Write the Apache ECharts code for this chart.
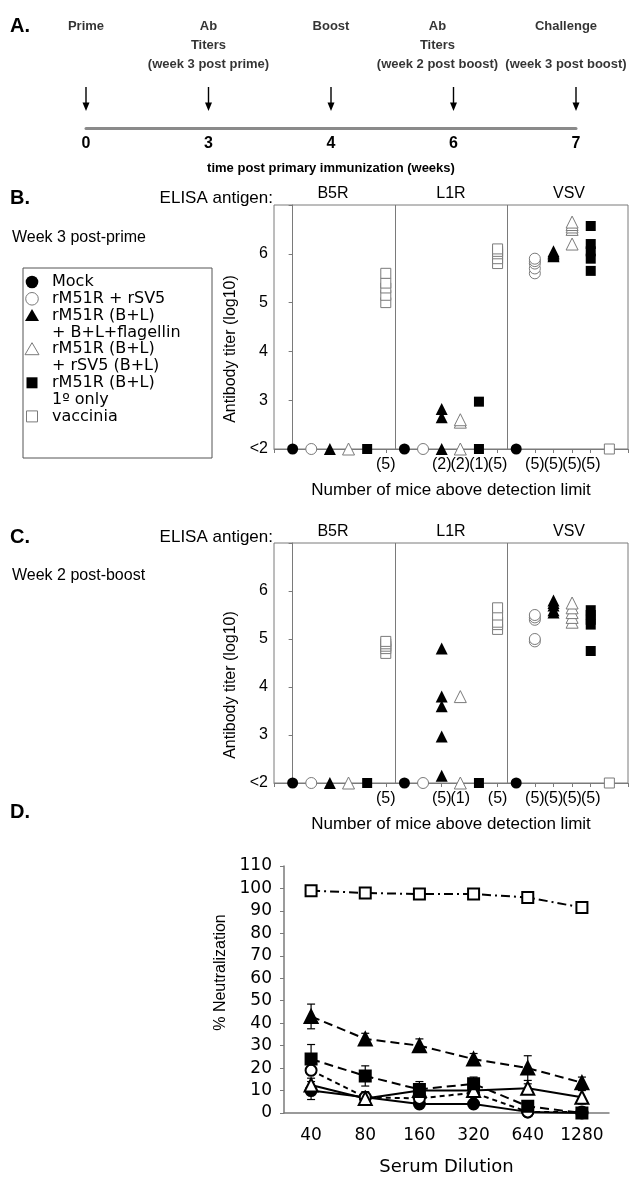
<!DOCTYPE html>
<html>
<head>
<meta charset="utf-8">
<script src="https://cdn.jsdelivr.net/npm/echarts@6/dist/echarts.min.js"></script>
<style>
    html, body { margin: 0; padding: 0; background: #fff; }
    #chart { width: 631px; height: 1177px; }
</style>
</head>
<body>
<div id="chart"></div>
<script>
// A. immunization timeline
var weeks = ['0', '3', '4', '6', '7'];
var events = ['Prime', 'Ab\nTiters\n(week 3 post prime)', 'Boost', 'Ab\nTiters\n(week 2 post boost)', 'Challenge\n\n(week 3 post boost)'];

// B / C. ELISA titers (log10), value 2 = below detection limit (<2)
var antigens = ['B5R', 'L1R', 'VSV'];
var groups = ['Mock', 'rM51R + rSV5', 'rM51R (B+L)\n+ B+L+flagellin', 'rM51R (B+L)\n+ rSV5 (B+L)', 'rM51R (B+L)\n1º only', 'vaccinia'];

// week 3 post-prime, one list per antigen (B5R, L1R, VSV)
var w3Mock = [[2], [2], [2]];
var w3Sv5 = [[2], [2], [5.6, 5.7, 5.8, 5.85, 5.9]];
var w3Flag = [[2], [2, 2.65, 2.82], [5.95, 5.97, 6.0, 6.02, 6.05]];
var w3Rsv5 = [[2], [2, 2.55, 2.6], [6.2, 6.5, 6.55, 6.6, 6.65]];
var w3Prime = [[2], [2, 2.97], [5.65, 5.9, 6.05, 6.2, 6.57]];
var w3Vacc = [[5.0, 5.15, 5.3, 5.4, 5.6], [5.8, 5.9, 6.0, 6.05, 6.1], [2]];
var w3Counts = ['', '', '', '', '', '(5)', '', '', '(2)', '(2)', '(1)', '(5)', '', '(5)', '(5)', '(5)', '(5)', ''];

// week 2 post-boost
var b2Mock = [[2], [2], [2]];
var b2Sv5 = [[2], [2], [4.95, 5.0, 5.4, 5.45, 5.5]];
var b2Flag = [[2], [2.15, 2.97, 3.6, 3.8, 4.8], [5.55, 5.6, 5.7, 5.75, 5.8]];
var b2Rsv5 = [[2], [2, 3.8], [5.35, 5.45, 5.55, 5.65, 5.75]];
var b2Prime = [[2], [2], [4.75, 5.3, 5.4, 5.5, 5.6]];
var b2Vacc = [[4.7, 4.8, 4.85, 4.9, 4.95], [5.2, 5.3, 5.35, 5.5, 5.65], [2]];
var b2Counts = ['', '', '', '', '', '(5)', '', '', '(5)', '(1)', '', '(5)', '', '(5)', '(5)', '(5)', '(5)', ''];

// D. % neutralization by serum dilution (mean, error)
var dilutions = ['40', '80', '160', '320', '640', '1280'];
var neutMock = [10, 7, 4, 4, 0.5, 0];
var neutMockErr = [4, 1, 1.5, 1, 0.5, 0];
var neutSv5 = [19, 7, 6.5, 9, 0.5, 0.5];
var neutSv5Err = [1, 1, 1, 1, 0.5, 0.5];
var neutFlag = [43, 33, 30, 24, 20, 13.5];
var neutFlagErr = [5.5, 2.5, 3, 2.5, 5.5, 2.5];
var neutRsv5 = [12.5, 6.5, 10, 10, 11, 7];
var neutRsv5Err = [3, 3, 1, 2, 2, 3];
var neutPrime = [24, 16.5, 10.5, 13, 3, 0];
var neutPrimeErr = [6.5, 4.5, 3.5, 3, 1, 0];
var neutVacc = [99, 98, 97.5, 97.5, 96, 91.5];
var neutVaccErr = [0.5, 0.5, 0.5, 0.5, 0.5, 0.5];

var SANS = '"Liberation Sans", Arial, sans-serif';
var WIDE = '"DejaVu Sans", sans-serif';
var GREY = '#7a7a7a';

// marker look per group
var marks = [
    {symbol: 'circle', size: 11, fill: '#000'},
    {symbol: 'circle', size: 11, fill: '#fff'},
    {symbol: 'triangle', size: 12, fill: '#000'},
    {symbol: 'triangle', size: 12, fill: '#fff'},
    {symbol: 'rect', size: 10, fill: '#000'},
    {symbol: 'rect', size: 10, fill: '#fff'}
];

function titerSeries(data, axisIdx, yIdx) {
    var list = groups.map(function (name, g) {
        var pts = [];
        data[g].forEach(function (vals, a) {
            vals.forEach(function (v) { pts.push([a * groups.length + g, v]); });
        });
        return {
            type: 'scatter', name: name, xAxisIndex: axisIdx, yAxisIndex: yIdx,
            data: pts, symbol: marks[g].symbol, symbolSize: marks[g].size, z: 3,
            itemStyle: {
                color: marks[g].fill,
                borderColor: marks[g].fill === '#fff' ? GREY : '#000',
                borderWidth: marks[g].fill === '#fff' ? 1 : 0,
                opacity: 1
            }
        };
    });
    // section dividers between antigens
    list[0].markLine = {
        silent: true, symbol: 'none', label: {show: false},
        lineStyle: {color: GREY, type: 'solid', width: 1},
        data: [{xAxis: 5.5}, {xAxis: 11.5}]
    };
    return list;
}

var neut = [
    {vals: neutMock, err: neutMockErr, symbol: 'circle', fill: '#000', dash: 'solid'},
    {vals: neutSv5, err: neutSv5Err, symbol: 'circle', fill: '#fff', dash: [5, 4]},
    {vals: neutFlag, err: neutFlagErr, symbol: 'triangle', fill: '#000', dash: [9, 5]},
    {vals: neutRsv5, err: neutRsv5Err, symbol: 'triangle', fill: '#fff', dash: 'solid'},
    {vals: neutPrime, err: neutPrimeErr, symbol: 'rect', fill: '#000', dash: [9, 5]},
    {vals: neutVacc, err: neutVaccErr, symbol: 'rect', fill: '#fff', dash: [9, 4, 2, 4]}
];

function errBar(params, api) {
    var e = api.value(2);
    if (!e) return;
    var x = api.value(0), y = api.value(1);
    var top = api.coord([x, y + e]);
    var bot = api.coord([x, y - e]);
    var w = 4;
    var st = {stroke: '#000', lineWidth: 1.2};
    return {
        type: 'group',
        children: [
            {type: 'line', shape: {x1: top[0], y1: top[1], x2: bot[0], y2: bot[1]}, style: st},
            {type: 'line', shape: {x1: top[0] - w, y1: top[1], x2: top[0] + w, y2: top[1]}, style: st},
            {type: 'line', shape: {x1: bot[0] - w, y1: bot[1], x2: bot[0] + w, y2: bot[1]}, style: st}
        ]
    };
}

var neutSeries = [];
neut.forEach(function (s, k) {
    neutSeries.push({
        type: 'custom', xAxisIndex: 5, yAxisIndex: 3, z: 2, silent: true,
        renderItem: errBar,
        encode: {x: 0, y: 1},
        data: s.vals.map(function (v, i) { return [i, v, s.err[i]]; })
    });
    neutSeries.push({
        type: 'line', name: groups[k], xAxisIndex: 5, yAxisIndex: 3, z: 3,
        data: s.vals, symbol: s.symbol, showSymbol: true,
        symbolSize: s.symbol === 'triangle' ? 13 : 11,
        itemStyle: {color: s.fill, borderColor: '#000', borderWidth: 2},
        lineStyle: {color: '#000', width: 2, type: s.dash}
    });
});

// free text and the legend box
var graphics = [];
function txt(text, x, y, font, align) {
    graphics.push({type: 'text', x: x, y: y, style: {text: text, font: font, fill: '#000', align: align || 'left', verticalAlign: 'middle'}});
}
txt('A.', 10, 26, 'bold 20px ' + SANS);
txt('B.', 10, 198, 'bold 20px ' + SANS);
txt('C.', 10, 537, 'bold 20px ' + SANS);
txt('D.', 10, 812, 'bold 20px ' + SANS);
txt('ELISA antigen:', 273, 198, '17px ' + SANS, 'right');
txt('ELISA antigen:', 273, 537, '17px ' + SANS, 'right');
txt('Week 3 post-prime', 12, 238, '16px ' + SANS);
txt('Week 2 post-boost', 12, 576, '16px ' + SANS);

graphics.push({type: 'rect', shape: {x: 23, y: 268, width: 189, height: 190}, style: {fill: 'none', stroke: '#555', lineWidth: 1}});
var rowY = 282, rowStep = 16.8;
groups.forEach(function (name, g) {
    var m = marks[g];
    var cx = 32, cy = rowY;
    var st = {fill: m.fill, stroke: m.fill === '#fff' ? GREY : null, lineWidth: 1};
    if (m.symbol === 'circle') {
        graphics.push({type: 'circle', shape: {cx: cx, cy: cy, r: 6.3}, style: st});
    } else if (m.symbol === 'triangle') {
        graphics.push({type: 'polygon', shape: {points: [[cx, cy - 6.5], [cx + 7, cy + 5.5], [cx - 7, cy + 5.5]]}, style: st});
    } else {
        graphics.push({type: 'rect', shape: {x: cx - 5.5, y: cy - 5.5, width: 11, height: 11}, style: st});
    }
    name.split('\n').forEach(function (line) {
        txt(line, 52, rowY, '16px ' + WIDE);
        rowY += rowStep;
    });
});

var titerX = function (counts, idx, gridIdx) {
    return {
        gridIndex: gridIdx, type: 'value', min: -1, max: 18, interval: 1,
        axisLine: {onZero: false, lineStyle: {color: GREY}},
        axisTick: {length: 4, lineStyle: {color: GREY}},
        splitLine: {show: false},
        axisLabel: {formatter: function (v) { return counts[v] || ''; }, fontFamily: SANS, fontSize: 16, color: '#000', margin: 8},
        name: 'Number of mice above detection limit', nameLocation: 'middle', nameGap: 33,
        nameTextStyle: {fontFamily: SANS, fontSize: 17, color: '#000'}
    };
};
var antigenX = function (gridIdx) {
    return {
        gridIndex: gridIdx, type: 'category', position: 'top', data: antigens,
        axisLine: {show: false}, axisTick: {show: false},
        axisLabel: {fontFamily: SANS, fontSize: 16, color: '#000', margin: 3}
    };
};
var titerY = function (gridIdx) {
    return {
        gridIndex: gridIdx, type: 'value', min: 2, max: 7, interval: 1,
        axisLine: {show: true, lineStyle: {color: GREY}},
        axisTick: {show: true, length: 4, lineStyle: {color: GREY}},
        splitLine: {show: false},
        axisLabel: {
            formatter: function (v) { return v === 2 ? '<2' : (v === 7 ? '' : String(v)); },
            fontFamily: SANS, fontSize: 16, color: '#000', margin: 6
        },
        name: 'Antibody titer (log10)', nameLocation: 'middle', nameGap: 26,
        nameTextStyle: {fontFamily: SANS, fontSize: 16, color: '#000', padding: [0, 44, 0, 0]}
    };
};

var option = {
    animation: false,
    backgroundColor: '#fff',
    grid: [
        {left: 86, right: 55, top: 10, height: 118},
        {left: 274, right: 2, top: 205, height: 244, show: true, borderColor: GREY, borderWidth: 1},
        {left: 274, right: 2, top: 543, height: 240, show: true, borderColor: GREY, borderWidth: 1},
        {left: 284, right: 22, top: 866, height: 251}
    ],
    xAxis: [
        {
            gridIndex: 0, type: 'category', data: weeks, boundaryGap: false,
            axisLine: {lineStyle: {color: '#8a8a8a', width: 3}}, axisTick: {show: false},
            axisLabel: {fontFamily: SANS, fontWeight: 'bold', fontSize: 16, color: '#000', margin: 8},
            name: 'time post primary immunization (weeks)', nameLocation: 'middle', nameGap: 34,
            nameTextStyle: {fontFamily: SANS, fontWeight: 'bold', fontSize: 13, color: '#000'}
        },
        titerX(w3Counts, 1, 1),
        antigenX(1),
        titerX(b2Counts, 3, 2),
        antigenX(2),
        {
            gridIndex: 3, type: 'category', data: dilutions, boundaryGap: true,
            axisLine: {lineStyle: {color: GREY, width: 1.5}},
            axisTick: {length: 5, lineStyle: {color: GREY}},
            axisLabel: {interval: 0, fontFamily: WIDE, fontSize: 17, color: '#000', margin: 14},
            name: 'Serum Dilution', nameLocation: 'middle', nameGap: 45,
            nameTextStyle: {fontFamily: WIDE, fontSize: 18, color: '#000'}
        }
    ],
    yAxis: [
        {gridIndex: 0, type: 'value', min: 0, max: 1, show: false},
        titerY(1),
        titerY(2),
        {
            gridIndex: 3, type: 'value', min: 0, max: 110, interval: 10,
            axisLine: {show: true, lineStyle: {color: GREY, width: 1.5}},
            axisTick: {show: true, length: 4, lineStyle: {color: GREY}},
            splitLine: {show: false},
            axisLabel: {fontFamily: WIDE, fontSize: 17, color: '#000', margin: 12},
            name: '% Neutralization', nameLocation: 'middle', nameGap: 54,
            nameTextStyle: {fontFamily: SANS, fontSize: 16, color: '#000', padding: [0, 0, 0, 34]}
        }
    ],
    graphic: graphics,
    series: [
        {
            type: 'scatter', xAxisIndex: 0, yAxisIndex: 0, silent: true,
            data: weeks.map(function (w) { return [w, 0.246]; }),
            symbol: 'path://M-0.6,0L0.6,0L0.6,13L3,13L0,20L-3,13L-0.6,13Z',
            symbolSize: [7, 24], symbolKeepAspect: false,
            itemStyle: {color: '#000', opacity: 1}
        },
        {
            type: 'scatter', xAxisIndex: 0, yAxisIndex: 0, silent: true,
            data: weeks.map(function (w, i) {
                if (i === 3) return {value: [w, 0.945], label: {offset: [-16, 0]}};
                if (i === 4) return {value: [w, 0.945], label: {offset: [-10, 0]}};
                return [w, 0.945];
            }),
            symbolSize: 1, itemStyle: {color: 'rgba(0,0,0,0)'},
            label: {
                show: true, position: 'bottom', distance: 0,
                formatter: function (p) { return events[p.dataIndex]; },
                fontFamily: SANS, fontWeight: 'bold', fontSize: 13, lineHeight: 19, color: '#000', align: 'center'
            }
        }
    ]
        .concat(titerSeries([w3Mock, w3Sv5, w3Flag, w3Rsv5, w3Prime, w3Vacc], 1, 1))
        .concat(titerSeries([b2Mock, b2Sv5, b2Flag, b2Rsv5, b2Prime, b2Vacc], 3, 2))
        .concat(neutSeries)
};

var chart = echarts.init(document.getElementById('chart'));
chart.setOption(option);
</script>
</body>
</html>
